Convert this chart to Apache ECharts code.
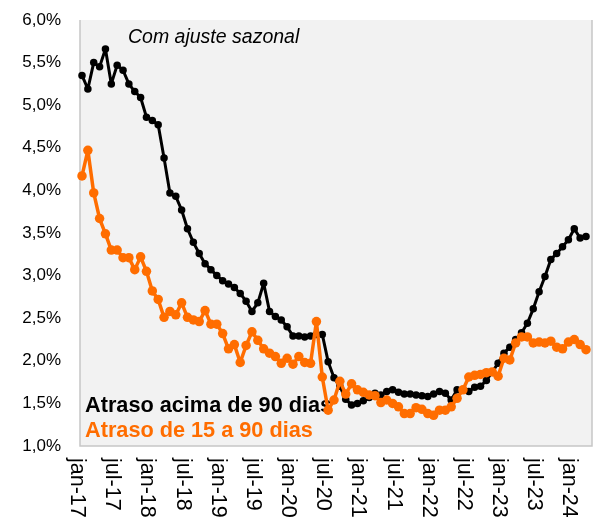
<!DOCTYPE html>
<html>
<head>
<meta charset="utf-8">
<style>
html,body{margin:0;padding:0;background:#ffffff;}
#chart{width:597px;height:517px;}
</style>
<script src="https://cdn.jsdelivr.net/npm/echarts@6/dist/echarts.min.js"></script>
</head>
<body>
<div id="chart"></div>
<script>
// ---- data ----
const monthNames = ['jan','fev','mar','abr','mai','jun','jul','ago','set','out','nov','dez'];
const firstYear = 2017;
const months = [];
for (let i = 0; i < 87; i++) {
  months.push(monthNames[i % 12] + '-' + String((firstYear + Math.floor(i / 12)) % 100));
}
const seriesNames = ['Atraso acima de 90 dias', 'Atraso de 15 a 90 dias'];
const atrasoAcima90 = [
  5.35,5.19,5.50,5.45,5.66,5.25,5.47,5.41,5.25,5.16,5.09,4.86,
  4.82,4.77,4.38,3.97,3.93,3.77,3.55,3.39,3.26,3.14,3.07,3.00,
  2.94,2.90,2.86,2.79,2.70,2.58,2.68,2.91,2.58,2.52,2.48,2.40,
  2.29,2.29,2.28,2.29,2.31,2.31,1.99,1.80,1.70,1.55,1.48,1.50,
  1.53,1.57,1.62,1.60,1.64,1.66,1.63,1.61,1.61,1.60,1.59,1.58,
  1.61,1.64,1.62,1.54,1.66,1.66,1.64,1.69,1.70,1.77,1.87,1.97,
  2.09,2.16,2.25,2.33,2.44,2.61,2.81,2.99,3.19,3.26,3.34,3.42,
  3.55,3.44,3.46
];
const atraso15a90 = [
  4.17,4.47,3.97,3.67,3.49,3.30,3.30,3.21,3.21,3.07,3.22,3.05,
  2.82,2.72,2.51,2.58,2.54,2.68,2.51,2.48,2.46,2.59,2.43,2.43,
  2.32,2.14,2.19,1.98,2.18,2.34,2.24,2.14,2.09,2.05,1.97,2.03,
  1.96,2.05,1.98,1.97,2.46,1.81,1.42,1.54,1.76,1.61,1.73,1.66,
  1.63,1.60,1.59,1.51,1.54,1.50,1.46,1.38,1.38,1.45,1.43,1.38,
  1.36,1.42,1.42,1.46,1.56,1.66,1.81,1.83,1.84,1.86,1.87,1.82,
  2.03,2.01,2.21,2.28,2.28,2.21,2.22,2.21,2.23,2.16,2.14,2.22,
  2.25,2.19,2.13
];
const yMin = 1.0, yMax = 6.0, yStep = 0.5;
const annotation = 'Com ajuste sazonal';

// ---- chart ----
const FONT = '"Liberation Sans", Arial, sans-serif';
const ORANGE = '#ff6d00';
const chart = echarts.init(document.getElementById('chart'), null, {renderer: 'canvas'});
chart.setOption({
  animation: false,
  backgroundColor: '#ffffff',
  grid: {left: 82, right: 11, top: 20, bottom: 71, containLabel: false, outerBoundsMode: 'none'},
  xAxis: {
    type: 'category',
    data: months,
    boundaryGap: false,
    axisLine: {show: false},
    axisTick: {show: false},
    splitLine: {show: false},
    axisLabel: {
      interval: 5,
      rotate: -90,
      margin: 12,
      verticalAlign: 'top',
      lineHeight: 10,
      color: '#000000',
      fontFamily: FONT,
      fontSize: 21.5
    }
  },
  yAxis: {
    type: 'value',
    min: yMin,
    max: yMax,
    interval: yStep,
    axisLine: {show: false},
    axisTick: {show: false},
    splitLine: {show: false},
    axisLabel: {
      margin: 21,
      color: '#000000',
      fontFamily: FONT,
      fontSize: 17,
      formatter: v => v.toFixed(1).replace('.', ',') + '%'
    }
  },
  graphic: [
    {type: 'rect', z: -10, shape: {x: 80, y: 20, width: 512, height: 426}, style: {fill: '#f2f2f2'}},
    {type: 'polyline', z: -9, shape: {points: [[80, 20], [80, 446], [592, 446], [592, 20]]},
     style: {stroke: '#c6c6c6', lineWidth: 1.5, fill: null}},
    {type: 'text', z: 1, style: {x: 128, y: 38, text: annotation, fill: '#000000',
      font: 'italic 19.5px ' + FONT, textAlign: 'left', textVerticalAlign: 'middle', align: 'left', verticalAlign: 'middle'}},
    {type: 'text', z: 1, style: {x: 85, y: 406, text: seriesNames[0], fill: '#000000',
      font: 'bold 21.7px ' + FONT, textAlign: 'left', textVerticalAlign: 'middle', align: 'left', verticalAlign: 'middle'}},
    {type: 'text', z: 1, style: {x: 85, y: 431, text: seriesNames[1], fill: ORANGE,
      font: 'bold 21.7px ' + FONT, textAlign: 'left', textVerticalAlign: 'middle', align: 'left', verticalAlign: 'middle'}}
  ],
  series: [
    {
      name: seriesNames[0],
      type: 'line',
      data: atrasoAcima90,
      symbol: 'circle',
      symbolSize: 7.5,
      showAllSymbol: true,
      lineStyle: {color: '#000000', width: 3},
      itemStyle: {color: '#000000'},
      z: 3
    },
    {
      name: seriesNames[1],
      type: 'line',
      data: atraso15a90,
      symbol: 'circle',
      symbolSize: 9.5,
      showAllSymbol: true,
      lineStyle: {color: ORANGE, width: 3.5},
      itemStyle: {color: ORANGE},
      z: 4
    }
  ]
});
</script>
</body>
</html>
